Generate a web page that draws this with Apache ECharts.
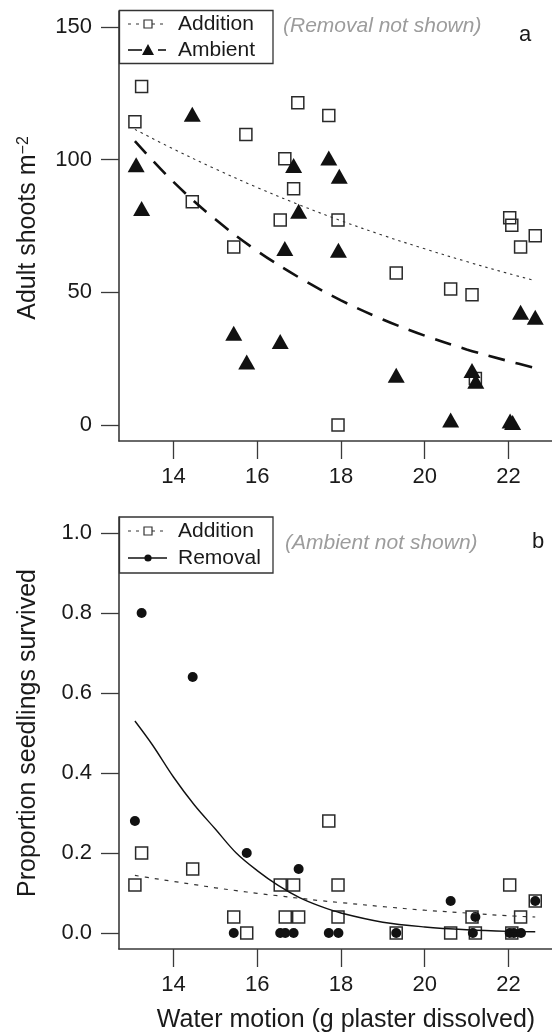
<!DOCTYPE html>
<html>
<head>
<meta charset="utf-8">
<title>Water motion: adult shoots and seedling survival</title>
<script src="https://cdn.jsdelivr.net/npm/echarts@6/dist/echarts.min.js"></script>
<style>
  html, body { margin: 0; padding: 0; background: #fff; }
  #chart { width: 552px; height: 1036px; }
</style>
</head>
<body>
<div id="chart"></div>
<script>
// tick values
const xTicks = [14, 16, 18, 20, 22];
const shootTicks = [0, 50, 100, 150];
const propTicks = [0, 0.2, 0.4, 0.6, 0.8, 1.0];

// panel a - adult shoots, Addition plots (open squares)
const addShootX = [13.24, 13.08, 15.73, 16.97, 17.71, 16.66, 16.87, 14.45, 17.93, 16.55,
                   15.44, 22.03, 22.08, 22.29, 22.64, 19.32, 20.62, 21.13, 21.21, 17.93];
const addShootY = [127.6, 114.3, 109.5, 121.4, 116.6, 100.3, 89.0, 84.1, 77.3, 77.3,
                   67.1, 78.1, 75.3, 67.1, 71.3, 57.3, 51.3, 49.1, 17.5, 0];
// panel a - Ambient plots (filled triangles)
const ambShootX = [14.45, 13.11, 13.24, 16.87, 17.71, 17.96, 16.99, 16.66, 17.94, 15.44,
                   16.55, 15.75, 19.32, 21.13, 21.22, 20.62, 22.04, 22.10, 22.29, 22.64];
const ambShootY = [117.1, 98.1, 81.6, 97.8, 100.6, 93.7, 80.6, 66.5, 65.9, 34.6,
                   31.5, 23.8, 18.8, 20.6, 16.5, 1.9, 1.5, 1.0, 42.5, 40.6];
// panel a - fitted curves
const fitXa = [13.08, 14, 15, 16, 17, 18, 19, 20, 21, 22, 22.64];
const addShootFit = [111.4, 104, 96.5, 89.5, 83, 77, 71.5, 66.4, 61.6, 57.1, 54.4];
const ambShootFit = [107, 91.6, 77.5, 65.6, 55.6, 47, 39.8, 33.7, 28.5, 24.1, 21.5];

// panel b - proportion of seedlings survived, Addition (open squares)
const addPropX = [13.24, 13.08, 14.46, 17.71, 16.55, 16.87, 17.93, 22.03, 15.44, 16.67,
                  16.99, 17.93, 21.13, 22.29, 22.64, 15.75, 19.32, 20.62, 21.21, 22.08];
const addPropY = [0.20, 0.12, 0.16, 0.28, 0.12, 0.12, 0.12, 0.12, 0.04, 0.04,
                  0.04, 0.04, 0.04, 0.04, 0.08, 0, 0, 0, 0, 0];
// panel b - Removal (filled circles)
const remPropX = [13.24, 14.46, 13.08, 15.75, 16.99, 20.62, 21.21, 22.64, 15.44, 16.55,
                  16.67, 16.87, 17.71, 17.94, 19.32, 21.15, 22.03, 22.13, 22.30];
const remPropY = [0.80, 0.64, 0.28, 0.20, 0.16, 0.08, 0.04, 0.08, 0, 0,
                  0, 0, 0, 0, 0, 0, 0, 0, 0];
// panel b - fitted curves
const fitXb = [13.08, 13.5, 14, 14.5, 15, 15.5, 16, 16.5, 17, 17.5, 18, 19, 20, 21, 22, 22.64];
const remPropFit = [0.53, 0.47, 0.39, 0.32, 0.26, 0.20, 0.156, 0.119, 0.089, 0.067,
                    0.050, 0.027, 0.015, 0.008, 0.004, 0.003];
const addPropFit = [0.144, 0.137, 0.129, 0.121, 0.113, 0.106, 0.099, 0.093, 0.087, 0.081,
                    0.076, 0.066, 0.057, 0.050, 0.043, 0.040];

const FONT = '"Liberation Sans", Arial, Helvetica, sans-serif';
const axisColor = '#3a3a3a';
const textColor = '#1a1a1a';
const inkColor = '#111';
const greyText = '#9c9c9c';

const pairs = (xs, ys) => xs.map((x, i) => [x, ys[i]]);

function xAxisFor(gridIndex) {
  return {
    type: 'value',
    gridIndex: gridIndex,
    min: 12.7,
    max: 23.04,
    axisLine: { show: true, onZero: false, lineStyle: { color: axisColor, width: 1.6 } },
    axisTick: { show: true, length: 18, customValues: xTicks, lineStyle: { color: axisColor, width: 1.3 } },
    axisLabel: { customValues: xTicks, margin: 25, fontSize: 22, color: textColor, fontFamily: FONT },
    splitLine: { show: false },
  };
}

function yAxisFor(gridIndex, min, max, ticks, fmt) {
  return {
    type: 'value',
    gridIndex: gridIndex,
    min: min,
    max: max,
    axisLine: { show: true, onZero: false, lineStyle: { color: axisColor, width: 1.6 } },
    axisTick: { show: true, length: 18, customValues: ticks, lineStyle: { color: axisColor, width: 1.3 } },
    axisLabel: { customValues: ticks, margin: 27, fontSize: 22, color: textColor, fontFamily: FONT, formatter: fmt },
    splitLine: { show: false },
  };
}

const openSquare = {
  type: 'scatter', symbol: 'rect', symbolSize: 12,
  itemStyle: { color: 'rgba(255,255,255,0)', borderColor: '#2a2a2a', borderWidth: 1.5, opacity: 1 },
};

function fitLine(name, xi, yi, xs, ys, lineStyle) {
  return {
    name: name, type: 'line', xAxisIndex: xi, yAxisIndex: yi,
    data: pairs(xs, ys), showSymbol: false, symbol: 'none',
    smooth: 0.35,
    lineStyle: lineStyle, silent: true, z: 3,
  };
}

// legend drawn by hand so it looks like the R legend ("- -□ -")
function legendBox(top, height) {
  return { type: 'rect', z: 100, shape: { x: 119.5, y: top, width: 153.5, height: height },
    style: { fill: '#fff', stroke: '#333', lineWidth: 1.3 } };
}
function legendText(text, y) {
  return { type: 'text', z: 101, x: 178, y: y,
    style: { text: text, font: '21px ' + FONT, fill: textColor, textVerticalAlign: 'middle' } };
}
function dottedSquare(y) {
  return [
    { type: 'line', z: 101, shape: { x1: 128, y1: y, x2: 167, y2: y },
      style: { stroke: '#333', lineWidth: 1, lineDash: [3, 5] } },
    { type: 'rect', z: 102, shape: { x: 144, y: y - 4, width: 8, height: 8 },
      style: { fill: '#fff', stroke: '#333', lineWidth: 1.2 } },
  ];
}

const legendA = [
  legendBox(10.5, 53),
  ...dottedSquare(24),
  legendText('Addition', 24),
  { type: 'line', z: 101, shape: { x1: 128, y1: 50, x2: 142, y2: 50 }, style: { stroke: inkColor, lineWidth: 1.6 } },
  { type: 'polygon', z: 102, shape: { points: [[148, 44], [154, 55], [142, 55]] }, style: { fill: inkColor } },
  { type: 'line', z: 101, shape: { x1: 158, y1: 50, x2: 166, y2: 50 }, style: { stroke: inkColor, lineWidth: 1.6 } },
  legendText('Ambient', 50),
];

const legendB = [
  legendBox(517, 56),
  ...dottedSquare(531),
  legendText('Addition', 531),
  { type: 'line', z: 101, shape: { x1: 128, y1: 558, x2: 167, y2: 558 }, style: { stroke: inkColor, lineWidth: 1.3 } },
  { type: 'circle', z: 102, shape: { cx: 148, cy: 558, r: 3.6 }, style: { fill: inkColor } },
  legendText('Removal', 558),
];

const labels = [
  { type: 'text', x: 283, y: 26, style: { text: '(Removal not shown)', font: 'italic 21px ' + FONT, fill: greyText, textVerticalAlign: 'middle' } },
  { type: 'text', x: 525, y: 35, style: { text: 'a', font: '22px ' + FONT, fill: textColor, textAlign: 'center', textVerticalAlign: 'middle' } },
  { type: 'text', x: 285, y: 543, style: { text: '(Ambient not shown)', font: 'italic 21px ' + FONT, fill: greyText, textVerticalAlign: 'middle' } },
  { type: 'text', x: 538, y: 542, style: { text: 'b', font: '22px ' + FONT, fill: textColor, textAlign: 'center', textVerticalAlign: 'middle' } },
  // axis titles
  { type: 'text', x: 28, y: 228, rotation: Math.PI / 2,
    style: { text: '{t|Adult shoots m}{s|\u22122}', textAlign: 'center', textVerticalAlign: 'middle', fill: textColor,
      rich: { t: { fontSize: 25, fontFamily: FONT, fill: textColor }, s: { fontSize: 16, fontFamily: FONT, fill: textColor, verticalAlign: 'top' } } } },
  { type: 'text', x: 28, y: 733, rotation: Math.PI / 2,
    style: { text: 'Proportion seedlings survived', font: '25px ' + FONT, fill: textColor, textAlign: 'center', textVerticalAlign: 'middle' } },
  { type: 'text', x: 346, y: 1020,
    style: { text: 'Water motion (g plaster dissolved)', font: '25px ' + FONT, fill: textColor, textAlign: 'center', textVerticalAlign: 'middle' } },
];

const option = {
  backgroundColor: '#fff',
  animation: false,
  grid: [
    { left: 119, top: 11, width: 433, height: 430 },
    { left: 119, top: 517, width: 433, height: 432 },
  ],
  xAxis: [xAxisFor(0), xAxisFor(1)],
  yAxis: [
    yAxisFor(0, -6, 156, shootTicks, v => String(v)),
    yAxisFor(1, -0.04, 1.04, propTicks, v => v.toFixed(1)),
  ],
  series: [
    Object.assign({ name: 'Addition', xAxisIndex: 0, yAxisIndex: 0, data: pairs(addShootX, addShootY) }, openSquare),
    { name: 'Ambient', type: 'scatter', xAxisIndex: 0, yAxisIndex: 0, symbol: 'triangle', symbolSize: [17, 15],
      itemStyle: { color: inkColor, opacity: 1 }, data: pairs(ambShootX, ambShootY) },
    fitLine('Addition fit', 0, 0, fitXa, addShootFit, { color: '#333', width: 1.1, type: [2.5, 4] }),
    fitLine('Ambient fit', 0, 0, fitXa, ambShootFit, { color: inkColor, width: 2.6, type: [17, 11] }),

    Object.assign({ name: 'Addition', xAxisIndex: 1, yAxisIndex: 1, data: pairs(addPropX, addPropY) }, openSquare),
    { name: 'Removal', type: 'scatter', xAxisIndex: 1, yAxisIndex: 1, symbol: 'circle', symbolSize: 10,
      itemStyle: { color: inkColor, opacity: 1 }, data: pairs(remPropX, remPropY) },
    fitLine('Addition fit', 1, 1, fitXb, addPropFit, { color: '#333', width: 1.2, type: [4, 6] }),
    fitLine('Removal fit', 1, 1, fitXb, remPropFit, { color: inkColor, width: 1.4, type: 'solid' }),
  ],
  graphic: { elements: [...legendA, ...legendB, ...labels] },
};

const chart = echarts.init(document.getElementById('chart'), null, { renderer: 'canvas' });
chart.setOption(option);
</script>
</body>
</html>
